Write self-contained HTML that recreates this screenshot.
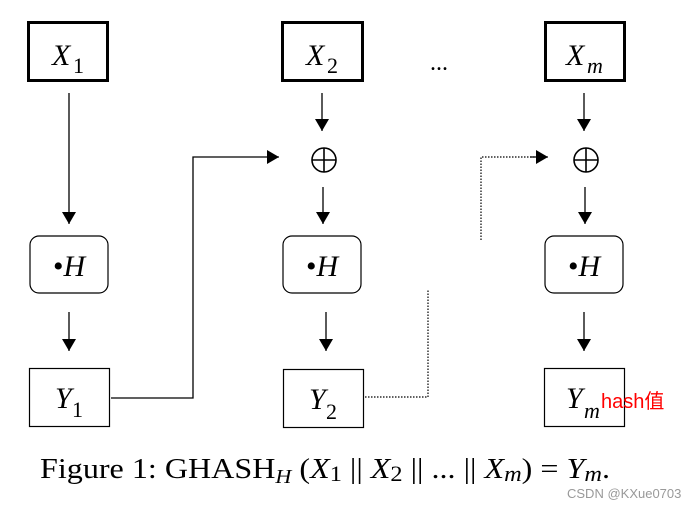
<!DOCTYPE html>
<html><head><meta charset="utf-8"><style>html,body{margin:0;padding:0;background:#fff}svg{display:block}</style></head>
<body>
<svg width="698" height="508" viewBox="0 0 698 508" xmlns="http://www.w3.org/2000/svg" font-family="Liberation Serif, serif">
<defs>
<marker id="v" viewBox="0 0 12 14" markerWidth="12" markerHeight="14" refX="12" refY="7" orient="auto" markerUnits="userSpaceOnUse"><path d="M0,0 L12,7 L0,14 z" fill="#000"/></marker>
</defs>
<g fill="none" stroke="#000">
<rect x="28.5" y="22.5" width="79" height="58" stroke-width="3"/>
<rect x="282.5" y="22.5" width="80" height="58" stroke-width="3"/>
<rect x="545.5" y="22.5" width="79" height="58" stroke-width="3"/>
<rect x="30" y="236" width="78" height="57" rx="9" stroke-width="1.2"/>
<rect x="283" y="236" width="78" height="57" rx="9" stroke-width="1.2"/>
<rect x="545" y="236" width="78" height="57" rx="9" stroke-width="1.2"/>
<rect x="29.5" y="368.5" width="80" height="58" stroke-width="1.2"/>
<rect x="283.5" y="369.5" width="80" height="58" stroke-width="1.2"/>
<rect x="544.5" y="368.5" width="80" height="58" stroke-width="1.2"/>
</g>
<g fill="none" stroke="#000" stroke-width="1.3">
<line x1="69" y1="93" x2="69" y2="224" marker-end="url(#v)"/>
<line x1="69" y1="312" x2="69" y2="351" marker-end="url(#v)"/>
<line x1="322" y1="93" x2="322" y2="131" marker-end="url(#v)"/>
<line x1="323" y1="187" x2="323" y2="224" marker-end="url(#v)"/>
<line x1="326" y1="312" x2="326" y2="351" marker-end="url(#v)"/>
<line x1="584" y1="93" x2="584" y2="131" marker-end="url(#v)"/>
<line x1="585" y1="187" x2="585" y2="224" marker-end="url(#v)"/>
<line x1="584" y1="312" x2="584" y2="351" marker-end="url(#v)"/>
<polyline points="111,398 193,398 193,157 279,157" marker-end="url(#v)"/>
<polyline points="365,397 428,397 428,290" stroke-dasharray="1.5,1.5" stroke-width="1.2"/>
<polyline points="481,240 481,157 535,157" stroke-dasharray="1.5,1.5" stroke-width="1.2"/>
<line x1="530" y1="157" x2="548" y2="157" marker-end="url(#v)"/>
</g>
<g fill="none" stroke="#000" stroke-width="1.6">
<circle cx="324" cy="160" r="12"/><line x1="312" y1="160" x2="336" y2="160"/><line x1="324" y1="148" x2="324" y2="172"/>
<circle cx="586" cy="160" r="12"/><line x1="574" y1="160" x2="598" y2="160"/><line x1="586" y1="148" x2="586" y2="172"/>
</g>
<g font-size="30" fill="#000">
<text x="52" y="65" font-style="italic">X</text><text x="73" y="73" font-size="22">1</text>
<text x="306" y="65" font-style="italic">X</text><text x="327" y="73" font-size="22">2</text>
<text x="566" y="65" font-style="italic">X</text><text x="587" y="73" font-size="22" font-style="italic">m</text>
<text x="430" y="70" font-size="24">...</text>
<text x="53" y="276">•<tspan font-style="italic">H</tspan></text>
<text x="306" y="276">•<tspan font-style="italic">H</tspan></text>
<text x="568" y="276">•<tspan font-style="italic">H</tspan></text>
<text x="55" y="408" font-style="italic">Y</text><text x="72" y="417" font-size="22">1</text>
<text x="309" y="409" font-style="italic">Y</text><text x="326" y="419" font-size="22">2</text>
<text x="566" y="408" font-style="italic">Y</text><text x="584" y="418" font-size="22" font-style="italic">m</text>
</g>
<text x="601" y="408" font-family="Liberation Sans, Noto Sans CJK SC, sans-serif" font-size="20" fill="#ff0000">hash值</text>
<text x="40" y="478" font-size="29" fill="#000" textLength="570" lengthAdjust="spacingAndGlyphs">Figure 1:  GHASH<tspan font-style="italic" font-size="20" dy="5">H</tspan><tspan dy="-5"> (</tspan><tspan font-style="italic">X</tspan><tspan font-size="22" dy="3">1</tspan><tspan dy="-3"> || </tspan><tspan font-style="italic">X</tspan><tspan font-size="22" dy="3">2</tspan><tspan dy="-3"> || ... || </tspan><tspan font-style="italic">X</tspan><tspan font-style="italic" font-size="22" dy="3">m</tspan><tspan dy="-3">) = </tspan><tspan font-style="italic">Y</tspan><tspan font-style="italic" font-size="22" dy="3">m</tspan><tspan dy="-3">.</tspan></text>
<text x="567" y="498" font-family="Liberation Sans, sans-serif" font-size="13" fill="#999">CSDN @KXue0703</text>
</svg>
</body></html>
